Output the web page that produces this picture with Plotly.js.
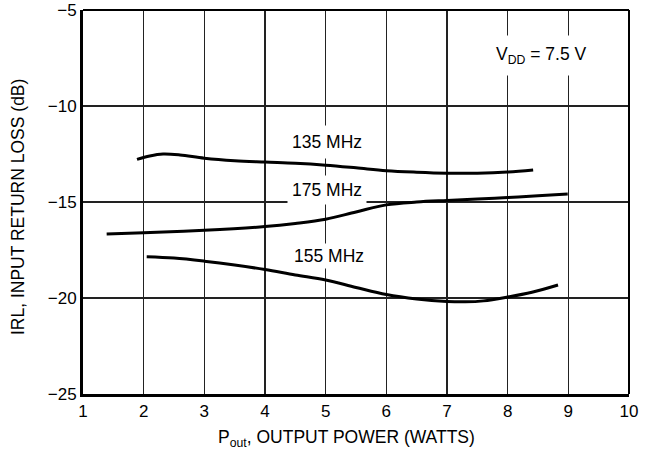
<!DOCTYPE html>
<html>
<head>
<meta charset="utf-8">
<script src="https://cdn.plot.ly/plotly-3.0.1.min.js"></script>
<style>
  html, body { margin: 0; padding: 0; background: #fff; }
  #chart { width: 651px; height: 454px; }
</style>
</head>
<body>
<div id="chart"></div>
<script>
// Input return loss vs. output power, one curve per frequency
const pout135 = [1.89, 2.1, 2.32, 2.6, 3.0, 3.5, 4.0, 4.5, 5.0, 5.5, 6.0, 6.5, 7.0, 7.5, 8.0, 8.42];
const irl135  = [-12.78, -12.6, -12.5, -12.55, -12.72, -12.85, -12.92, -12.98, -13.08, -13.22, -13.37, -13.45, -13.5, -13.5, -13.44, -13.33];

const pout175 = [1.39, 2.0, 3.0, 4.0, 4.5, 5.0, 5.5, 6.0, 6.5, 7.0, 7.5, 8.0, 8.5, 8.99];
const irl175  = [-16.67, -16.6, -16.47, -16.28, -16.12, -15.9, -15.52, -15.15, -15.0, -14.92, -14.85, -14.77, -14.68, -14.58];

const pout155 = [2.05, 2.5, 3.0, 3.5, 4.0, 4.5, 5.0, 5.5, 6.0, 6.5, 7.0, 7.3, 7.6, 8.0, 8.4, 8.83];
const irl155  = [-17.85, -17.92, -18.08, -18.28, -18.52, -18.8, -19.06, -19.45, -19.82, -20.05, -20.18, -20.2, -20.15, -19.95, -19.7, -19.32];

const xTicks = [1, 2, 3, 4, 5, 6, 7, 8, 9, 10];
const yTicks = [-25, -20, -15, -10, -5];

const FONT = '"Liberation Sans", Arial, Helvetica, sans-serif';

const curve = (x, y) => ({
  x: x, y: y, type: 'scatter', mode: 'lines',
  line: { color: '#000', width: 3, shape: 'spline', smoothing: 1 },
  hoverinfo: 'skip', showlegend: false
});

const data = [curve(pout135, irl135), curve(pout175, irl175), curve(pout155, irl155)];

const label = (text, x, y, pad) => ({
  text: text, x: x, y: y, xref: 'x', yref: 'y',
  showarrow: false, bgcolor: '#fff', borderpad: pad,
  font: { family: FONT, size: 17.5, color: '#000' }
});

const layout = {
  width: 651, height: 454,
  margin: { l: 83, r: 22, t: 10, b: 60 },
  paper_bgcolor: '#fff', plot_bgcolor: '#fff',
  font: { family: FONT, size: 17, color: '#000' },
  xaxis: {
    range: [1, 10], tickvals: xTicks, ticktext: xTicks.map(String),
    showgrid: true, gridcolor: '#222', gridwidth: 1.2,
    zeroline: false, showline: true, linecolor: '#000', linewidth: 3,
    ticks: '', ticklen: 0,
    tickfont: { family: FONT, size: 17, color: '#000' }
  },
  yaxis: {
    range: [-25, -5], tickvals: yTicks, ticktext: yTicks.map(v => '\u2212' + Math.abs(v)),
    showgrid: true, gridcolor: '#222', gridwidth: 1.2,
    zeroline: false, showline: true, linecolor: '#000', linewidth: 3,
    ticks: '', ticklen: 0,
    tickfont: { family: FONT, size: 17, color: '#000' }
  },
  shapes: [
    { type: 'line', xref: 'paper', yref: 'paper', x0: 0, x1: 1, y0: 1, y1: 1,
      line: { color: '#000', width: 2 } },
    { type: 'line', xref: 'paper', yref: 'paper', x0: 1, x1: 1, y0: 0, y1: 1,
      line: { color: '#000', width: 2 } }
  ],
  annotations: [
    label('135 MHz', 5.02, -11.85, 6),
    label('175 MHz', 5.02, -14.37, 4),
    label('155 MHz', 5.05, -17.8, 2),
    label('V<sub>DD</sub> = 7.5 V', 8.55, -7.35, 8),
    // axis titles
    { text: 'P<sub>out</sub>, OUTPUT POWER (WATTS)', xref: 'paper', yref: 'paper',
      x: 0.4835, y: -0.1146, xanchor: 'center', yanchor: 'middle', showarrow: false,
      font: { family: FONT, size: 17.5, color: '#000' } },
    { text: 'IRL, INPUT RETURN LOSS (dB)', xref: 'paper', yref: 'paper',
      x: -0.119, y: 0.487, xanchor: 'center', yanchor: 'middle', textangle: -90, showarrow: false,
      font: { family: FONT, size: 17.5, color: '#000' } }
  ]
};

Plotly.newPlot('chart', data, layout, { staticPlot: true, displayModeBar: false });
</script>
</body>
</html>
